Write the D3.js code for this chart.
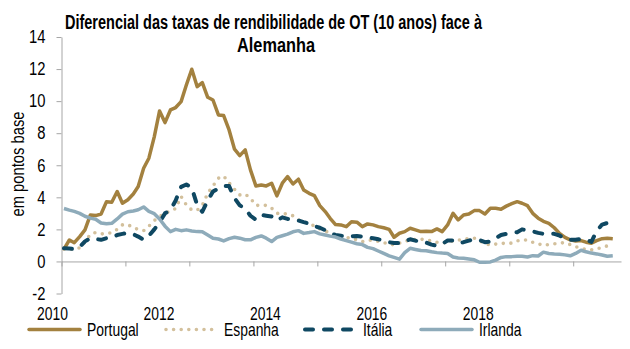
<!DOCTYPE html>
<html>
<head>
<meta charset="utf-8">
<script src="https://cdn.jsdelivr.net/npm/d3@7"></script>
<style>
  html, body { margin: 0; padding: 0; background: #fff; }
  svg { display: block; }
  text { font-family: "Liberation Sans", Arial, sans-serif; fill: #000; }
</style>
</head>
<body>
<svg id="chart" width="630" height="349"></svg>
<script>
// Monthly 10-year government bond spreads against Germany (percentage points), Jan 2010 – Aug 2018
const firstMonth = new Date(2010, 0, 15);
const monthCount = 104;

const portugal = [0.76,1.34,1.17,1.55,1.97,2.9,2.86,2.96,3.73,3.69,
  4.36,3.63,3.85,4.21,4.67,5.81,6.44,7.79,9.39,8.66,
  9.45,9.6,9.97,11.0,11.99,10.9,11.15,10.24,10.07,9.14,
  9.1,8.2,7.0,6.6,6.96,5.71,4.71,4.77,4.71,4.88,
  4.09,4.88,5.29,4.83,5.13,4.46,4.25,4.1,3.48,3.11,
  2.69,2.3,2.28,2.17,2.48,2.45,2.17,2.34,2.28,2.17,
  2.1,2.0,1.51,1.76,1.86,2.07,1.97,1.86,1.88,1.86,
  2.03,1.86,2.28,3.0,2.59,2.9,2.96,3.17,3.17,2.96,
  3.32,3.32,3.26,3.45,3.6,3.73,3.63,3.48,3.0,2.7,
  2.5,2.38,2.1,1.75,1.5,1.35,1.28,1.3,1.2,1.14,
  1.3,1.42,1.45,1.42];

const espanha = [0.76,0.76,0.76,0.85,1.2,1.7,1.8,1.72,1.72,1.8,
  2.0,2.28,2.3,2.1,2.0,1.92,2.2,2.55,2.8,3.0,
  3.15,3.3,4.05,3.52,3.21,3.2,3.5,4.25,4.71,5.19,
  5.33,4.9,4.5,4.15,4.2,3.94,3.5,3.5,3.5,3.32,
  3.0,2.98,2.96,2.85,2.6,2.45,2.38,2.2,2.03,1.9,
  1.76,1.55,1.55,1.5,1.45,1.35,1.24,1.3,1.34,1.25,
  1.17,1.1,1.03,1.15,1.24,1.34,1.37,1.39,1.34,1.28,
  1.2,1.14,1.2,1.28,1.33,1.38,1.42,1.45,1.3,1.1,
  1.03,1.08,1.12,1.14,1.14,1.28,1.34,1.34,1.2,1.1,
  1.0,1.06,1.1,1.15,1.17,1.05,0.92,0.82,0.75,0.72,
  0.78,0.88,0.97,1.0];

const italia = [0.82,0.8,0.78,0.9,1.25,1.45,1.4,1.35,1.45,1.5,
  1.65,1.72,1.78,1.7,1.55,1.35,1.6,2.0,2.45,3.0,
  3.2,3.8,4.65,4.8,4.6,3.5,3.1,3.8,4.36,4.55,
  4.71,4.7,3.95,3.5,3.3,2.85,2.6,2.9,2.85,2.8,
  2.55,2.75,2.65,2.62,2.55,2.45,2.36,2.2,2.1,1.95,
  1.75,1.65,1.6,1.55,1.57,1.59,1.55,1.47,1.45,1.38,
  1.3,1.2,1.15,1.14,1.25,1.38,1.3,1.2,1.17,1.05,
  0.97,1.1,1.3,1.3,1.14,1.2,1.3,1.38,1.34,1.2,
  1.24,1.45,1.65,1.72,1.78,1.82,2.0,1.95,1.88,1.78,
  1.72,1.72,1.72,1.62,1.42,1.35,1.35,1.4,1.36,1.22,
  1.9,2.3,2.4,2.55];

const irlanda = [3.3,3.2,3.12,3.0,2.82,2.7,2.63,2.4,2.35,2.38,
  2.65,2.95,3.1,3.15,3.22,3.4,3.12,2.98,2.65,2.2,
  1.86,2.0,1.92,1.97,1.9,1.86,1.85,1.65,1.45,1.4,
  1.28,1.42,1.51,1.45,1.35,1.35,1.5,1.59,1.45,1.24,
  1.5,1.6,1.7,1.85,1.92,1.75,1.8,1.86,1.72,1.65,
  1.58,1.52,1.4,1.3,1.2,1.1,1.05,0.88,0.8,0.65,
  0.5,0.35,0.25,0.14,0.55,0.82,0.75,0.68,0.67,0.6,
  0.55,0.52,0.5,0.28,0.22,0.2,0.15,0.1,-0.05,-0.05,
  -0.03,0.08,0.25,0.3,0.3,0.33,0.32,0.28,0.36,0.34,
  0.58,0.5,0.47,0.45,0.41,0.35,0.5,0.7,0.6,0.52,
  0.47,0.4,0.32,0.35];

const seriesNames = ["Portugal", "Espanha", "Itália", "Irlanda"];
const yTickValues = [-2, 0, 2, 4, 6, 8, 10, 12, 14];
const yearLabels = ["2010", "2012", "2014", "2016", "2018"];
const titleLines = ["Diferencial das taxas de rendibilidade de OT (10 anos) face à", "Alemanha"];
const yAxisTitle = "em pontos base";

const months = d3.range(monthCount).map(i => d3.timeMonth.offset(firstMonth, i));

const styles = {
  "Portugal": { color: "#a3813f", width: 3.5, dash: null },
  "Espanha":  { color: "#d3c09c", width: 3.6, dash: "0,7.6" },
  "Itália":   { color: "#0f4862", width: 4,   dash: "8,11" },
  "Irlanda":  { color: "#8eabba", width: 3.5, dash: null }
};
const values = { "Portugal": portugal, "Espanha": espanha, "Itália": italia, "Irlanda": irlanda };

const svg = d3.select("#chart");
const axisColor = "#a6a6a6";

// Narrow-face look: squeeze Liberation Sans horizontally by a factor
function narrow(factor) {
  return sel => sel.each(function () {
    const w = this.getComputedTextLength();
    if (w > 0) {
      d3.select(this).attr("textLength", w * factor).attr("lengthAdjust", "spacingAndGlyphs");
    }
  });
}

const x = d3.scaleTime()
  .domain([new Date(2010, 0, 1), new Date(2018, 9, 1)])
  .range([61.5, 621]);
const y = d3.scaleLinear().domain([-2, 14]).range([293.5, 37]);

// Title
svg.append("g").selectAll("text")
  .data(titleLines)
  .join("text")
  .attr("x", (d, i) => i === 0 ? 273.5 : 276)
  .attr("y", (d, i) => i === 0 ? 28.5 : 52)
  .attr("text-anchor", "middle")
  .style("font-weight", "bold")
  .style("font-size", "19.5px")
  .attr("textLength", (d, i) => i === 0 ? 417 : 78)
  .attr("lengthAdjust", "spacingAndGlyphs")
  .text(d => d);

// Y axis
const yAxis = svg.append("g")
  .attr("transform", `translate(${x.range()[0]},0)`)
  .call(d3.axisLeft(y).tickValues(yTickValues).tickSize(5).tickSizeOuter(0).tickPadding(11));
yAxis.select(".domain").attr("stroke", axisColor);
yAxis.selectAll(".tick line").attr("stroke", axisColor);
yAxis.selectAll(".tick text")
  .style("font-family", "'Liberation Sans', Arial, sans-serif")
  .style("font-size", "18px")
  .attr("fill", "#000")
  .text(d => d < 0 ? "-" + Math.abs(d) : d)
  .call(narrow(0.82));

// Y axis title
svg.append("text")
  .attr("transform", "translate(24,164) rotate(-90)")
  .attr("text-anchor", "middle")
  .style("font-size", "18px")
  .text(yAxisTitle)
  .call(narrow(0.82));

// X axis along zero with yearly tick marks
const xAxis = svg.append("g")
  .attr("transform", `translate(0,${y(0)})`)
  .call(d3.axisBottom(x).ticks(d3.timeYear.every(1)).tickSize(5).tickSizeOuter(0).tickFormat(""));
xAxis.select(".domain").attr("stroke", axisColor);
xAxis.selectAll(".tick line").attr("stroke", axisColor);

// Year labels row beneath the plot
const labelX = d3.scalePoint().domain(yearLabels).range([52.5, 478.3]);
svg.append("g").selectAll("text")
  .data(yearLabels)
  .join("text")
  .attr("x", d => labelX(d))
  .attr("y", 320)
  .attr("text-anchor", "middle")
  .style("font-size", "18.5px")
  .text(d => d)
  .call(narrow(0.75));

// Series lines
const line = d3.line()
  .x((d, i) => x(months[i]))
  .y(d => y(d));

svg.append("g").selectAll("path")
  .data(seriesNames)
  .join("path")
  .attr("d", d => line(values[d]))
  .attr("fill", "none")
  .attr("stroke", d => styles[d].color)
  .attr("stroke-width", d => styles[d].width)
  .attr("stroke-dasharray", d => styles[d].dash)
  .attr("stroke-linecap", d => styles[d].dash ? "round" : "butt")
  .attr("stroke-linejoin", "round");

// Legend: one row, each entry a line sample followed by its name
const legendLeft = { "Portugal": 28, "Espanha": 165, "Itália": 304, "Irlanda": 420 };
const sampleLen = 53, sampleGap = 6, legendY = 329.5;
const items = svg.append("g").selectAll("g")
  .data(seriesNames)
  .join("g")
  .attr("transform", d => `translate(${legendLeft[d]},0)`);
items.append("line")
  .attr("x1", 1).attr("x2", sampleLen - 1)
  .attr("y1", legendY).attr("y2", legendY)
  .attr("stroke", d => styles[d].color)
  .attr("stroke-width", d => styles[d].width)
  .attr("stroke-dasharray", d => styles[d].dash)
  .attr("stroke-linecap", "round");
items.append("text")
  .attr("x", sampleLen + sampleGap)
  .attr("y", legendY + 6.5)
  .style("font-size", "18.5px")
  .text(d => d)
  .call(narrow(0.75));
</script>
</body>
</html>
